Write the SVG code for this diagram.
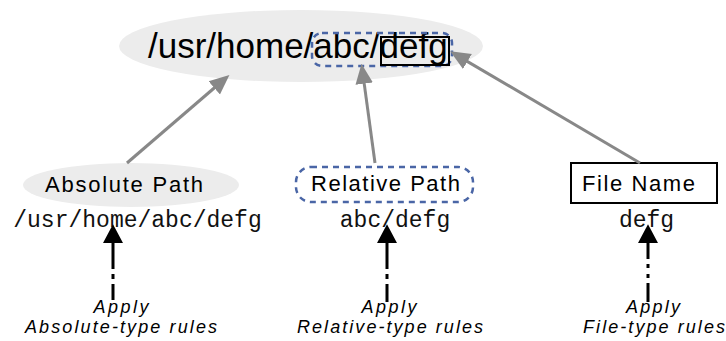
<svg xmlns="http://www.w3.org/2000/svg" width="726" height="341" viewBox="0 0 726 341">
<style>
.sans{font-family:"Liberation Sans",Arial,sans-serif;fill:#000}
.mono{font-family:"Liberation Mono","Courier New",monospace;font-size:23px;fill:#111}
.ital{font-family:"Liberation Sans",Arial,sans-serif;font-style:italic;font-size:18px;fill:#000}
.gray{stroke:#888;stroke-width:3;fill:none}
.blk{stroke:#000;stroke-width:3;fill:none}
.dash{stroke:#4a66a6;stroke-width:2.5;stroke-dasharray:6,5;fill:none}
.bubble{fill:#ececec}
</style>
<defs>
<marker id="gh" markerUnits="userSpaceOnUse" markerWidth="20" markerHeight="20" viewBox="0 0 16 14" refX="3" refY="7" orient="auto">
<path d="M0,0 L16,7 L0,14 z" fill="#888"/>
</marker>
<marker id="bh" markerUnits="userSpaceOnUse" markerWidth="20" markerHeight="20" viewBox="0 0 15 16" refX="0" refY="8" orient="auto">
<path d="M0,0 L15,8 L0,16 z" fill="#000"/>
</marker>
</defs>
<g id="full-path">
<ellipse class="bubble" cx="301" cy="46" rx="182" ry="36"/>
<text class="sans" x="148" y="58" font-size="35">/usr/home/abc/defg</text>
<rect class="dash" x="312" y="33" width="140" height="33" rx="10"/>
<rect x="381" y="37" width="68" height="28" fill="none" stroke="#000" stroke-width="2"/>
</g>
<g id="absolute">
<ellipse class="bubble" cx="131" cy="185" rx="108" ry="22"/>
<text class="sans" x="45" y="192" font-size="22" textLength="158" lengthAdjust="spacing">Absolute Path</text>
<text class="mono" x="137.5" y="227" text-anchor="middle">/usr/home/abc/defg</text>
<text class="ital" x="121" y="313" text-anchor="middle" textLength="55" lengthAdjust="spacing">Apply</text>
<text class="ital" x="25" y="333" textLength="192" lengthAdjust="spacing">Absolute-type rules</text>
</g>
<g id="relative">
<rect class="dash" x="296" y="167" width="177" height="35" rx="15"/>
<text class="sans" x="311" y="191" font-size="22" textLength="149" lengthAdjust="spacing">Relative Path</text>
<text class="mono" x="395" y="227" text-anchor="middle">abc/defg</text>
<text class="ital" x="389" y="313" text-anchor="middle" textLength="55" lengthAdjust="spacing">Apply</text>
<text class="ital" x="297" y="333" textLength="186" lengthAdjust="spacing">Relative-type rules</text>
</g>
<g id="filename">
<rect x="571" y="163" width="146" height="40" fill="#fff" stroke="#000" stroke-width="2"/>
<text class="sans" x="582" y="191" font-size="22" textLength="113" lengthAdjust="spacing">File Name</text>
<text class="mono" x="646.5" y="227" text-anchor="middle">defg</text>
<text class="ital" x="653" y="313" text-anchor="middle" textLength="54" lengthAdjust="spacing">Apply</text>
<text class="ital" x="583" y="333" textLength="142" lengthAdjust="spacing">File-type rules</text>
</g>
<g id="connectors">
<line class="gray" x1="127" y1="163" x2="217.1" y2="85.5" marker-end="url(#gh)"/>
<line class="gray" x1="375" y1="163" x2="363.7" y2="79.9" marker-end="url(#gh)"/>
<line class="gray" x1="640" y1="163" x2="464.2" y2="59.6" marker-end="url(#gh)"/>
<line class="blk" x1="113" y1="300" x2="113" y2="243" stroke-dasharray="16,5,5,5,30" marker-end="url(#bh)"/>
<line class="blk" x1="387" y1="302" x2="387" y2="243" stroke-dasharray="18,5,5,5,30" marker-end="url(#bh)"/>
<line class="blk" x1="648" y1="302" x2="648" y2="243" stroke-dasharray="19,5,4,6,4,5,20" marker-end="url(#bh)"/>
</g>
</svg>
